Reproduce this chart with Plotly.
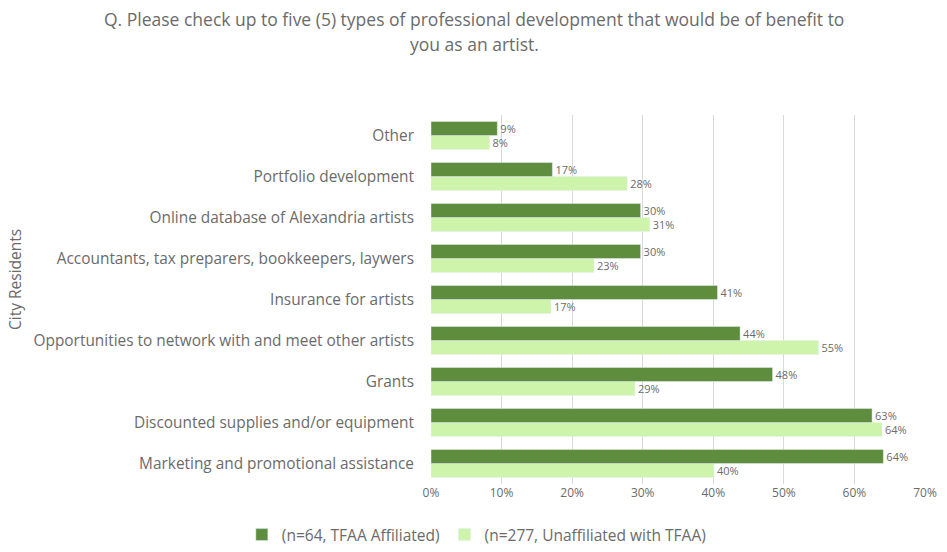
import plotly.graph_objects as go

# categories listed bottom -> top (plotly draws first category at the bottom)
categorias = [
    "Marketing and promotional assistance",
    "Discounted supplies and/or equipment",
    "Grants",
    "Opportunities to network with and meet other artists",
    "Insurance for artists",
    "Accountants, tax preparers, bookkeepers, laywers",
    "Online database of Alexandria artists",
    "Portfolio development",
    "Other",
]

# % respondents
afiliados = [64.1, 62.5, 48.4, 43.8, 40.6, 29.7, 29.7, 17.2, 9.4]
nao_afiliados = [40.1, 63.9, 28.9, 54.9, 17.0, 23.1, 31.0, 27.8, 8.3]
rot_afiliados = ["64%", "63%", "48%", "44%", "41%", "30%", "30%", "17%", "9%"]
rot_nao_afiliados = ["40%", "64%", "29%", "55%", "17%", "23%", "31%", "28%", "8%"]

nome_afil = "(n=64, TFAA Affiliated)"
nome_nao = "(n=277, Unaffiliated with TFAA)"

titulo = [
    "Q. Please check up to five (5) types of professional development that would be of benefit to",
    "you as an artist.",
]

x_ticks = [0, 10, 20, 30, 40, 50, 60, 70]

COR_ESCURA = "#5e8d3d"
COR_CLARA = "#cdf4aa"
CINZA = "#6b6b6b"
FONTE = "Open Sans, Noto Sans, sans-serif"

# area do grafico em pixels (para posicionar as anotacoes)
ESQ, DIR = 431, 925
TOPO, BASE = 115, 484
LARGURA = DIR - ESQ
ALTURA = BASE - TOPO

fig = go.Figure()

# light first so it sits below the dark bar in each group
fig.add_trace(go.Bar(
    y=categorias, x=nao_afiliados, orientation="h", name=nome_nao,
    marker_color=COR_CLARA, legendrank=2,
    text=rot_nao_afiliados, textposition="outside", constraintext="none",
    textfont=dict(size=11, color=CINZA), cliponaxis=False,
))
fig.add_trace(go.Bar(
    y=categorias, x=afiliados, orientation="h", name=nome_afil,
    marker_color=COR_ESCURA, legendrank=1,
    text=rot_afiliados, textposition="outside", constraintext="none",
    textfont=dict(size=11, color=CINZA), cliponaxis=False,
))

# titulo em duas linhas (anotacoes separadas para controlar o espacamento)
for linha, py in zip(titulo, [19, 44]):
    fig.add_annotation(
        text=linha, xref="paper", yref="paper",
        x=(474 - ESQ) / LARGURA, y=(BASE - py) / ALTURA,
        xanchor="center", yanchor="middle",
        showarrow=False, font=dict(size=17.5, color=CINZA),
    )

# eixo y: titulo rotacionado bem na borda esquerda
fig.add_annotation(
    text="City Residents", textangle=-90,
    xref="paper", yref="paper", x=(15 - ESQ) / LARGURA, y=(BASE - 280) / ALTURA,
    xanchor="center", yanchor="middle", showarrow=False,
    font=dict(size=15.5, color=CINZA),
)

fig.update_layout(
    width=947, height=552,
    margin=dict(l=ESQ, r=947 - DIR, t=TOPO, b=552 - BASE, autoexpand=False),
    paper_bgcolor="white", plot_bgcolor="white",
    font=dict(family=FONTE, color=CINZA, size=12),
    barmode="group", bargap=0.32, bargroupgap=0,
    xaxis=dict(
        range=[0, 70], tickvals=x_ticks, ticktext=[f"{v}%" for v in x_ticks],
        showgrid=True, gridcolor="#d9d9d9", gridwidth=1, zeroline=False,
        showline=False, ticks="", tickfont=dict(size=12, color=CINZA),
        automargin=False,
    ),
    yaxis=dict(
        showgrid=False, showline=False, ticks="", ticklabelstandoff=16,
        tickfont=dict(size=15.4, color=CINZA), automargin=False,
    ),
    legend=dict(
        orientation="h", xref="container", x=0.503, xanchor="center",
        yref="container", y=0.0, yanchor="bottom",
        font=dict(size=15.5, color=CINZA), itemwidth=30,
    ),
    showlegend=True,
)

# tira a margem padrao do body para a figura ocupar a janela inteira
fig.write_html(
    "out.html",
    config={"displayModeBar": False},
    post_script="document.body.style.margin='0';",
)
